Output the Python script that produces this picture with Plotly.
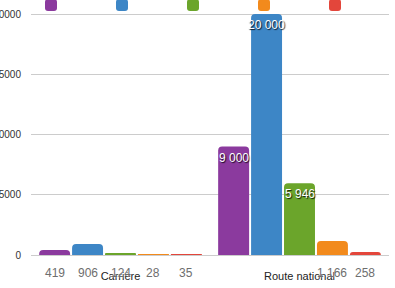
import plotly.graph_objects as go

categories = ["Carrière", "Route national"]
series_names = [" ", " ", " ", " ", " "]
purple_vals = [419, 9000]
blue_vals = [906, 20000]
green_vals = [124, 5946]
orange_vals = [28, 1166]
red_vals = [35, 258]
y_tick_vals = [0, 5000, 10000, 15000, 20000]

series = [purple_vals, blue_vals, green_vals, orange_vals, red_vals]
colors = ["#8b3a9e", "#3d86c6", "#6ba52b", "#f28a1c", "#e3463b"]

BARGAP = 0.08
SMALL = 2000
n = len(series)
FONT = "Liberation Sans, Arial, sans-serif"


def fmt(v):
    return f"{v:,}".replace(",", " ")


fig = go.Figure()
annotations = []
for i, (vals, col, nm) in enumerate(zip(series, colors, series_names)):
    fig.add_trace(go.Bar(
        x=categories, y=vals, name=nm,
        marker=dict(color=col, cornerradius=4, line=dict(width=0)),
        hoverinfo="skip",
    ))
    for ci, v in enumerate(vals):
        xpos = ci + (i - (n - 1) / 2) * (1 - BARGAP) / n
        if v < SMALL:
            annotations.append(dict(
                x=xpos, y=0, xref="x", yref="y", text=fmt(v), showarrow=False,
                yanchor="top", yshift=-9,
                font=dict(family=FONT, size=12, color="#6e6e6e",
                          shadow="0px 0px 2px white"),
            ))
        else:
            annotations.append(dict(
                x=xpos, y=v, xref="x", yref="y", text=fmt(v), showarrow=False,
                yanchor="top", yshift=-2,
                font=dict(family=FONT, size=12, color="white",
                          shadow="1px 1px 1px rgba(0,0,0,0.85)"),
            ))

fig.update_layout(
    width=395, height=288,
    margin=dict(l=31, r=6, t=0, b=20, autoexpand=False),
    paper_bgcolor="white", plot_bgcolor="white",
    barmode="group", bargap=BARGAP, bargroupgap=0.06,
    showlegend=True,
    legend=dict(orientation="h", x=0, xanchor="left", y=1.035, yanchor="top",
                font=dict(size=10, color="#333"),
                entrywidthmode="pixels", entrywidth=26,
                bgcolor="rgba(0,0,0,0)", itemclick=False),
    annotations=annotations,
    font=dict(family=FONT, color="#222"),
)
fig.update_yaxes(range=[-1079, 21162], tickvals=y_tick_vals, tickformat="d",
                 showgrid=True, gridcolor="#cccccc", gridwidth=1, zeroline=False,
                 showline=False, ticks="", ticklabelstandoff=9,
                 tickfont=dict(size=10, color="#333"))
fig.update_xaxes(showgrid=False, showline=False, ticks="", zeroline=False,
                 tickfont=dict(size=11, color="#222"))

fig.write_html("out.html")
